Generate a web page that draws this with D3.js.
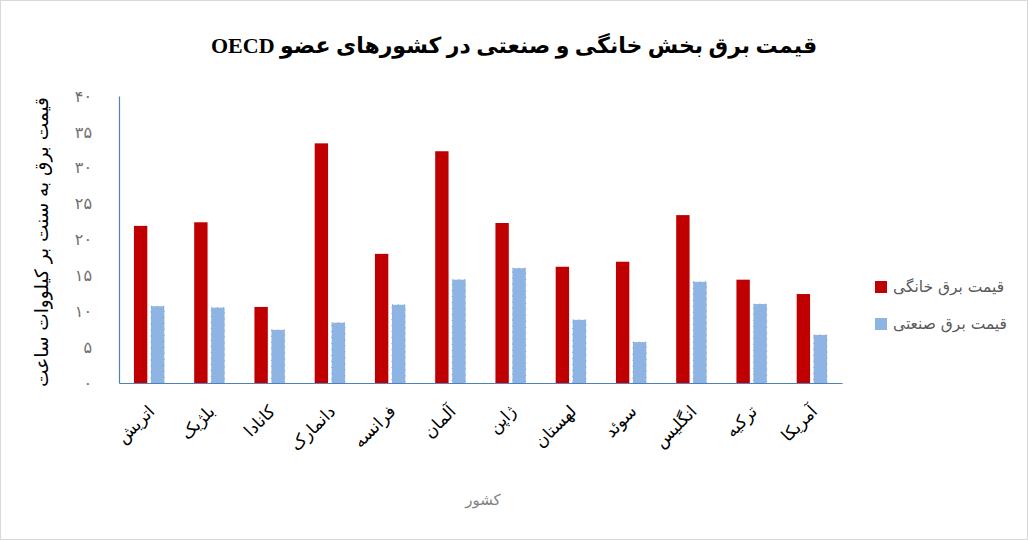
<!DOCTYPE html>
<html><head><meta charset="utf-8">
<script src="https://cdn.jsdelivr.net/npm/d3@7"></script>
<style>
body{margin:0;background:#fff;}
svg{display:block;}
text{font-family:"DejaVu Sans",sans-serif;}
</style></head>
<body><svg id="c" width="1028" height="540"></svg>
<script>
const categories = ["اتریش","بلژیک","کانادا","دانمارک","فرانسه","آلمان","ژاپن","لهستان","سوئد","انگلیس","ترکیه","آمریکا"];
const household = [21.9,22.4,10.6,33.4,18.0,32.3,22.3,16.2,16.9,23.4,14.4,12.4];
const industrial = [10.7,10.5,7.4,8.4,10.9,14.4,16.0,8.8,5.7,14.1,11.0,6.7];
const seriesNames = ["قیمت برق خانگی","قیمت برق صنعتی"];
const tickValues = [0,5,10,15,20,25,30,35,40];
const tickLabels = ["۰","۵","۱۰","۱۵","۲۰","۲۵","۳۰","۳۵","۴۰"];
const titleText = "قیمت برق بخش خانگی و صنعتی در کشورهای عضو OECD";
const yTitle = "قیمت برق به سنت بر کیلووات ساعت";
const xTitle = "کشور";
const colors = ["#C00000","#8EB4E3"];

const svg = d3.select("#c");
svg.append("rect").attr("x",0.5).attr("y",0.5).attr("width",1027).attr("height",539)
  .attr("fill","#fff").attr("stroke","#D9D9D9");

const L=119, R=842, T=96, B=383;
const x = d3.scaleBand().domain(categories).range([L,R]).padding(0);
const y = d3.scaleLinear().domain([0,40]).range([B,T]);
const bw = x.bandwidth();
const barW = bw*0.222, gap = bw*0.06;
const off = (bw - 2*barW - gap)/2;

const g = svg.append("g");
g.selectAll("rect.h").data(categories).join("rect").attr("class","h")
  .attr("x",d=>x(d)+off).attr("width",barW)
  .attr("y",(d,i)=>y(household[i])).attr("height",(d,i)=>B-y(household[i]))
  .attr("fill",colors[0]);
g.selectAll("rect.i").data(categories).join("rect").attr("class","i")
  .attr("x",d=>x(d)+off+barW+gap).attr("width",barW)
  .attr("y",(d,i)=>y(industrial[i])).attr("height",(d,i)=>B-y(industrial[i]))
  .attr("fill",colors[1]).attr("stroke","#6E99D2").attr("stroke-width",0.8).attr("stroke-dasharray","1,5");

// y axis
const ya = svg.append("g").attr("transform",`translate(${L},0)`)
  .call(d3.axisLeft(y).tickValues(tickValues).tickSize(0).tickPadding(27)
    .tickFormat((d,i)=>tickLabels[i]));
ya.select(".domain").attr("stroke","#4F81BD").attr("stroke-width",1.2);
ya.selectAll("text").attr("font-size",16).attr("fill","#6F6F6F").attr("font-family","DejaVu Sans");

// x axis
const xa = svg.append("g").attr("transform",`translate(0,${B})`)
  .call(d3.axisBottom(x).tickSize(0).tickFormat(""));
xa.select(".domain").attr("stroke","#4F81BD").attr("stroke-width",1.2);
svg.append("g").selectAll("text").data(categories).join("text")
  .attr("transform",d=>`translate(${x(d)+bw/2+3},${B+26}) rotate(-45)`)
  .attr("text-anchor","end").attr("dominant-baseline","middle")
  .attr("font-size",17).attr("fill","#000").text(d=>d);

// titles
svg.append("text").attr("x",514).attr("y",53).attr("text-anchor","middle")
  .attr("direction","rtl").attr("font-size",22).attr("font-weight","bold").attr("fill","#000")
  .style("font-family","'Liberation Serif','DejaVu Sans',serif").text(titleText);
svg.append("text").attr("transform","translate(43,242) rotate(-90)").attr("text-anchor","middle")
  .attr("dominant-baseline","middle").attr("direction","rtl").attr("font-size",18.5).attr("fill","#000").text(yTitle);
svg.append("text").attr("x",483).attr("y",500).attr("text-anchor","middle")
  .attr("dominant-baseline","middle").attr("font-size",15).attr("fill","#7F7F7F").text(xTitle);

// legend
const lg = svg.append("g");
seriesNames.forEach((n,i)=>{
  const yy = 287 + i*37;
  lg.append("rect").attr("x",875).attr("y",yy-6).attr("width",12).attr("height",12).attr("fill",colors[i]);
  lg.append("text").attr("x",893).attr("y",yy).attr("dominant-baseline","middle")
    .attr("font-size",15.5).attr("fill","#595959").text(n);
});
</script></body></html>
